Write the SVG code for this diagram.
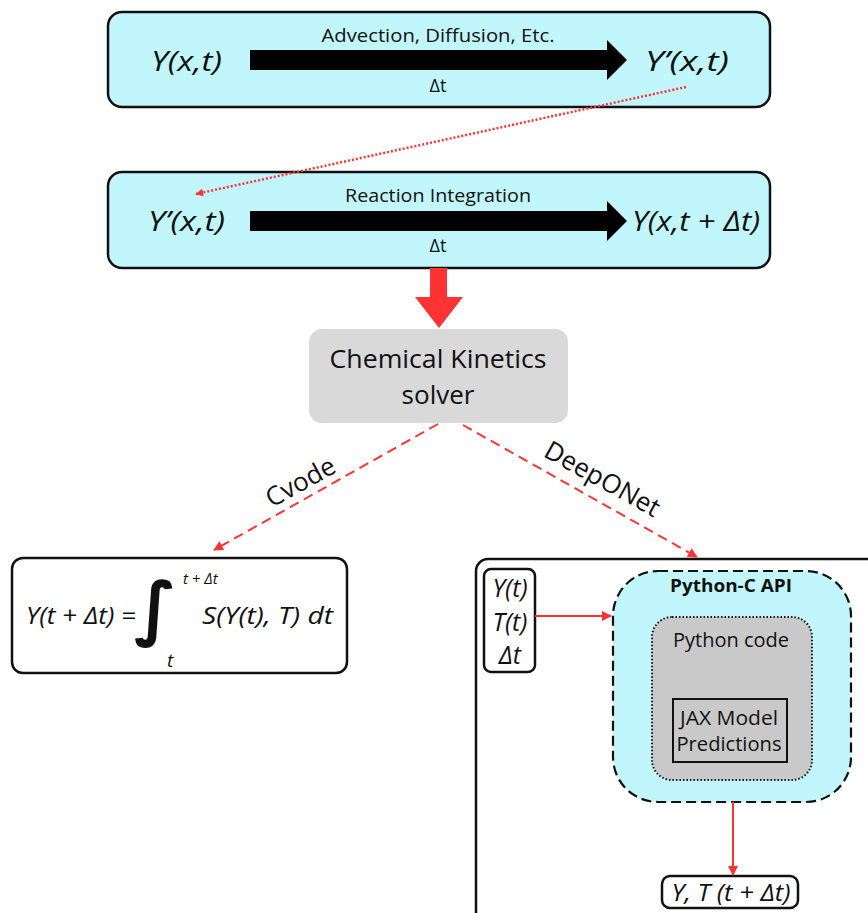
<svg xmlns="http://www.w3.org/2000/svg" width="868" height="913" viewBox="0 0 868 913">
  <defs>
    <style>
      .panel { fill: #c1f7fc; stroke: #111; stroke-width: 2.5; }
      .txt { font-family: "Open Sans", "Liberation Sans", sans-serif; fill: #111; }
      .it { font-family: "Open Sans", "Liberation Sans", sans-serif; font-style: italic; fill: #111; }
      .red { stroke: #ff3333; fill: none; }
      .box { fill: #fff; stroke: #111; stroke-width: 2.5; }
    </style>
    <marker id="redhead" viewBox="0 0 10 10" refX="9" refY="5" markerWidth="8" markerHeight="8" orient="auto" markerUnits="userSpaceOnUse">
      <path d="M0,0 L10,5 L0,10 Z" fill="#ff3333"/>
    </marker>
    <marker id="redhead2" viewBox="0 0 10 10" refX="9" refY="5" markerWidth="10" markerHeight="10" orient="auto" markerUnits="userSpaceOnUse">
      <path d="M0,0 L10,5 L0,10 Z" fill="#ff3333"/>
    </marker>
  </defs>

  <!-- transport step -->
  <g id="transport">
    <rect class="panel" x="108" y="12" width="662" height="95" rx="14"/>
    <path d="M250,50 H607 V40 L627,60 L607,80 V70 H250 Z" fill="#000"/>
    <text class="txt" x="438" y="42" font-size="18" text-anchor="middle" textLength="233" lengthAdjust="spacingAndGlyphs">Advection, Diffusion, Etc.</text>
    <text class="txt" x="438" y="92" font-size="18" text-anchor="middle">Δt</text>
    <text class="it" x="151" y="71" font-size="28" textLength="71" lengthAdjust="spacingAndGlyphs">Y(x,t)</text>
    <text class="it" x="645" y="71" font-size="28" textLength="84" lengthAdjust="spacingAndGlyphs">Y’(x,t)</text>
  </g>

  <!-- reaction step -->
  <g id="reaction">
    <rect class="panel" x="108" y="172" width="662" height="96" rx="14"/>
    <path d="M250,211 H607 V201 L627,221 L607,241 V231 H250 Z" fill="#000"/>
    <text class="txt" x="438" y="202" font-size="18" text-anchor="middle" textLength="186" lengthAdjust="spacingAndGlyphs">Reaction Integration</text>
    <text class="txt" x="438" y="252" font-size="18" text-anchor="middle">Δt</text>
    <text class="it" x="148" y="231" font-size="28" textLength="77" lengthAdjust="spacingAndGlyphs">Y’(x,t)</text>
    <text class="it" x="632" y="231" font-size="28" textLength="128" lengthAdjust="spacingAndGlyphs">Y(x,t + Δt)</text>
  </g>

  <!-- kinetics solver -->
  <g id="solver">
    <rect x="309" y="329" width="259" height="94" rx="13" fill="#d9d9d9"/>
    <text class="txt" x="438" y="368" font-size="26" text-anchor="middle" textLength="217" lengthAdjust="spacingAndGlyphs">Chemical Kinetics</text>
    <text class="txt" x="438" y="404" font-size="26" text-anchor="middle">solver</text>
  </g>

  <!-- CVODE integral -->
  <g id="cvode">
    <rect class="box" x="12" y="558" width="335" height="115" rx="11"/>
    <text class="it" x="26" y="624" font-size="24" textLength="110" lengthAdjust="spacingAndGlyphs">Y(t + Δt) =</text>
    <text x="134" y="632" font-size="70" font-weight="bold" font-family="DejaVu Sans, sans-serif" fill="#111">∫</text>
    <text class="it" x="183" y="584" font-size="15">t + Δt</text>
    <text class="it" x="167" y="667" font-size="19">t</text>
    <text class="it" x="202" y="624" font-size="24" textLength="131" lengthAdjust="spacingAndGlyphs">S(Y(t), T) dt</text>
  </g>

  <!-- DeepONet pipeline -->
  <g id="deeponet">
    <rect class="box" x="476" y="559" width="420" height="400" rx="12"/>
  </g>
  <g id="inputs">
    <rect class="box" x="484" y="569" width="51" height="103" rx="7"/>
    <text class="it" x="510" y="597" font-size="25" text-anchor="middle">Y(t)</text>
    <text class="it" x="510" y="631" font-size="25" text-anchor="middle">T(t)</text>
    <text class="it" x="510" y="664" font-size="25" text-anchor="middle">Δt</text>
  </g>
  <g id="python-c-api">
    <rect x="613" y="571" width="238" height="231" rx="45" fill="#c1f7fc" stroke="#111" stroke-width="2.2" stroke-dasharray="10 5"/>
    <text class="txt" x="731" y="592" font-size="18" font-weight="bold" text-anchor="middle" textLength="122" lengthAdjust="spacingAndGlyphs">Python-C API</text>
  </g>
  <g id="python-code">
    <rect x="652" y="617" width="160" height="163" rx="20" fill="#c9c9c9" stroke="#111" stroke-width="2" stroke-dasharray="1.5 2"/>
    <text class="txt" x="731" y="647" font-size="20" text-anchor="middle" textLength="116" lengthAdjust="spacingAndGlyphs">Python code</text>
  </g>
  <g id="jax-model">
    <rect x="673" y="699" width="114" height="63" fill="none" stroke="#111" stroke-width="2"/>
    <text class="txt" x="729" y="725" font-size="20" text-anchor="middle" textLength="98" lengthAdjust="spacingAndGlyphs">JAX Model</text>
    <text class="txt" x="729" y="751" font-size="20" text-anchor="middle" textLength="105" lengthAdjust="spacingAndGlyphs">Predictions</text>
  </g>
  <g id="output">
    <rect class="box" x="662" y="876" width="136" height="32" rx="8"/>
    <text class="it" x="731" y="901" font-size="23" text-anchor="middle" textLength="119" lengthAdjust="spacingAndGlyphs">Y, T (t + Δt)</text>
  </g>

  <!-- connectors -->
  <g id="connectors">
    <line class="red" x1="686" y1="87" x2="196" y2="194" stroke-width="2.5" stroke-dasharray="2 2" marker-end="url(#redhead)"/>
    <path d="M430,268 H447 V297 H463 L439,328 L415,297 H430 Z" fill="#ff3333"/>
    <line class="red" x1="438" y1="424" x2="214" y2="550" stroke-width="2" stroke-dasharray="10 6" marker-end="url(#redhead2)"/>
    <line class="red" x1="463" y1="425" x2="697" y2="557" stroke-width="2" stroke-dasharray="10 6" marker-end="url(#redhead2)"/>
    <line class="red" x1="535" y1="616" x2="611" y2="616" stroke-width="2" marker-end="url(#redhead2)"/>
    <line class="red" x1="733" y1="802" x2="733" y2="875" stroke-width="2" marker-end="url(#redhead2)"/>
  </g>

  <!-- branch labels -->
  <g id="labels">
    <text class="txt" x="300" y="491" font-size="26" text-anchor="middle" transform="rotate(-29 300 481)">Cvode</text>
    <text class="txt" x="603" y="488" font-size="26" text-anchor="middle" transform="rotate(29 603 478)">DeepONet</text>
  </g>
</svg>
